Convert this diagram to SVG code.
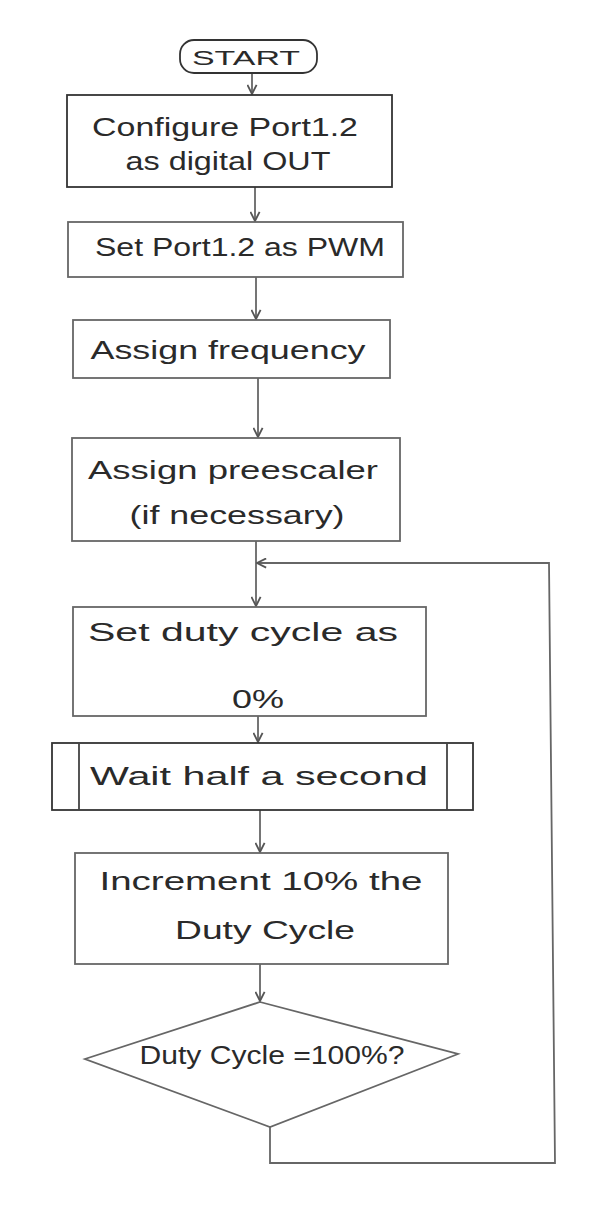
<svg xmlns="http://www.w3.org/2000/svg" width="592" height="1216" viewBox="0 0 592 1216">
<style>
.box{fill:#fff;stroke:#666;stroke-width:1.8}
.dark{stroke:#333}
.t{font-family:"Liberation Sans",Arial,sans-serif;font-size:26px;fill:#2a2a2a;text-anchor:middle;dominant-baseline:central}
.c{fill:none;stroke:#666;stroke-width:1.8}
</style>
<defs>
<marker id="ah" viewBox="0 0 12 12" refX="11" refY="6" markerWidth="11" markerHeight="11" markerUnits="userSpaceOnUse" orient="auto">
<path d="M1,1 L11,6 L1,11" fill="none" stroke="#555" stroke-width="2"/>
</marker>
</defs>
<rect width="592" height="1216" fill="#fff"/>
<g id="connectors">
<path class="c" d="M252,73 V94" marker-end="url(#ah)"/>
<path class="c" d="M255,187 V221" marker-end="url(#ah)"/>
<path class="c" d="M256,277 V319" marker-end="url(#ah)"/>
<path class="c" d="M258,378 V437" marker-end="url(#ah)"/>
<path class="c" d="M256,541 V606" marker-end="url(#ah)"/>
<path class="c" d="M258,716 V742" marker-end="url(#ah)"/>
<path class="c" d="M260,810 V852" marker-end="url(#ah)"/>
<path class="c" d="M260,964 V1001" marker-end="url(#ah)"/>
<path class="c" d="M270,1127 V1163 H555 L549,563 H257" marker-end="url(#ah)"/>
</g>
<g id="start">
<rect class="box dark" x="180" y="40" width="137" height="33" rx="14"/>
<text class="t" x="246" y="57" textLength="108" lengthAdjust="spacingAndGlyphs" style="font-size:21px">START</text>
</g>
<g id="configure">
<rect class="box dark" x="67" y="95" width="325" height="92"/>
<text class="t" x="225" y="127" textLength="266" lengthAdjust="spacingAndGlyphs">Configure Port1.2</text>
<text class="t" x="228" y="161" textLength="205" lengthAdjust="spacingAndGlyphs">as digital OUT</text>
</g>
<g id="setpwm">
<rect class="box" x="68" y="222" width="335" height="55"/>
<text class="t" x="240" y="247" textLength="290" lengthAdjust="spacingAndGlyphs">Set Port1.2 as PWM</text>
</g>
<g id="freq">
<rect class="box" x="73" y="320" width="317" height="58"/>
<text class="t" x="228" y="350" textLength="275" lengthAdjust="spacingAndGlyphs">Assign frequency</text>
</g>
<g id="prescaler">
<rect class="box" x="72" y="438" width="328" height="103"/>
<text class="t" x="233" y="470" textLength="290" lengthAdjust="spacingAndGlyphs">Assign preescaler</text>
<text class="t" x="237" y="515" textLength="215" lengthAdjust="spacingAndGlyphs">(if necessary)</text>
</g>
<g id="setduty">
<rect class="box" x="73" y="607" width="353" height="109"/>
<text class="t" x="243" y="632" textLength="310" lengthAdjust="spacingAndGlyphs">Set duty cycle as</text>
<text class="t" x="258" y="699" textLength="52" lengthAdjust="spacingAndGlyphs">0%</text>
</g>
<g id="wait">
<rect class="box dark" x="52" y="743" width="421" height="67"/>
<path class="c" d="M79,743 V810 M447,743 V810" style="stroke:#444"/>
<text class="t" x="259" y="776" textLength="338" lengthAdjust="spacingAndGlyphs">Wait half a second</text>
</g>
<g id="increment">
<rect class="box" x="75" y="853" width="373" height="111"/>
<text class="t" x="261" y="881" textLength="323" lengthAdjust="spacingAndGlyphs">Increment 10% the</text>
<text class="t" x="265" y="930" textLength="180" lengthAdjust="spacingAndGlyphs">Duty Cycle</text>
</g>
<g id="decision">
<polygon class="box" points="260,1002 458,1054 270,1127 85,1059"/>
<text class="t" x="272" y="1055" textLength="265" lengthAdjust="spacingAndGlyphs">Duty Cycle =100%?</text>
</g>
</svg>
